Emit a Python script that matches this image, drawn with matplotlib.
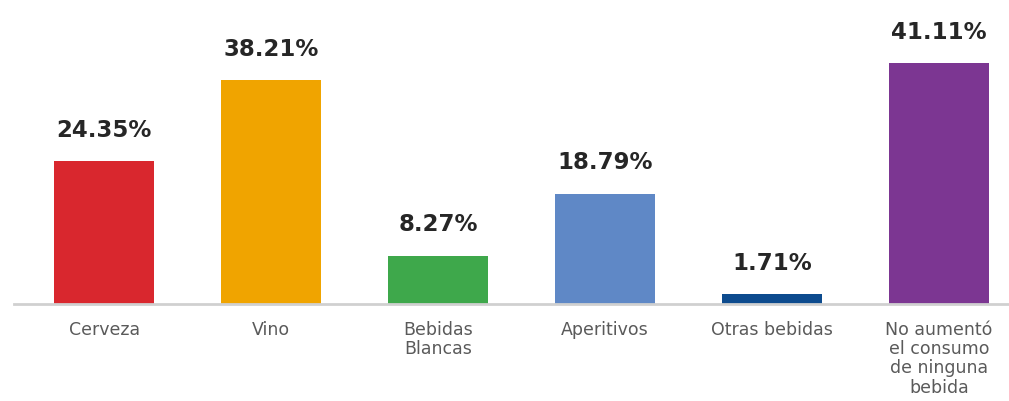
import matplotlib.pyplot as plt
import numpy as np

# datos
categorias = ['Cerveza', 'Vino', 'Bebidas\nBlancas', 'Aperitivos', 'Otras bebidas',
              'No aumentó\nel consumo\nde ninguna\nbebida']
valores = [24.35, 38.21, 8.27, 18.79, 1.71, 41.11]
colores = ['#d9272e', '#f0a400', '#3ea84b', '#5f88c6', '#0d4b8e', '#7c3692']

fig = plt.figure(figsize=(10.09, 4.01), dpi=100)
ax = fig.add_axes([0.014, 0.2419, 0.986, 0.7581])

x = np.arange(len(categorias))
ax.bar(x, valores, width=0.6, color=colores, zorder=2)

# etiquetas de porcentaje
for xi, v in zip(x, valores):
    ax.annotate(f'{v:.2f}%', xy=(xi, v), xytext=(0, 14), textcoords='offset points',
                ha='center', va='bottom', fontsize=16.5, fontweight='bold',
                color='#262626', family='DejaVu Sans')

ax.set_xlim(-0.539, 5.419)
ax.set_ylim(0, 51.9)

# linea base
for s in ['top', 'right', 'left']:
    ax.spines[s].set_visible(False)
ax.spines['bottom'].set_color('#d0d0d0')
ax.spines['bottom'].set_linewidth(2)
ax.set_yticks([])
ax.set_xticks(x)
ax.set_xticklabels(categorias, fontsize=12.5, color='#5a5a5a', family='DejaVu Sans',
                   linespacing=1.1)
ax.tick_params(axis='x', length=0, pad=12)

plt.savefig('out.png', dpi=100, facecolor='white')
